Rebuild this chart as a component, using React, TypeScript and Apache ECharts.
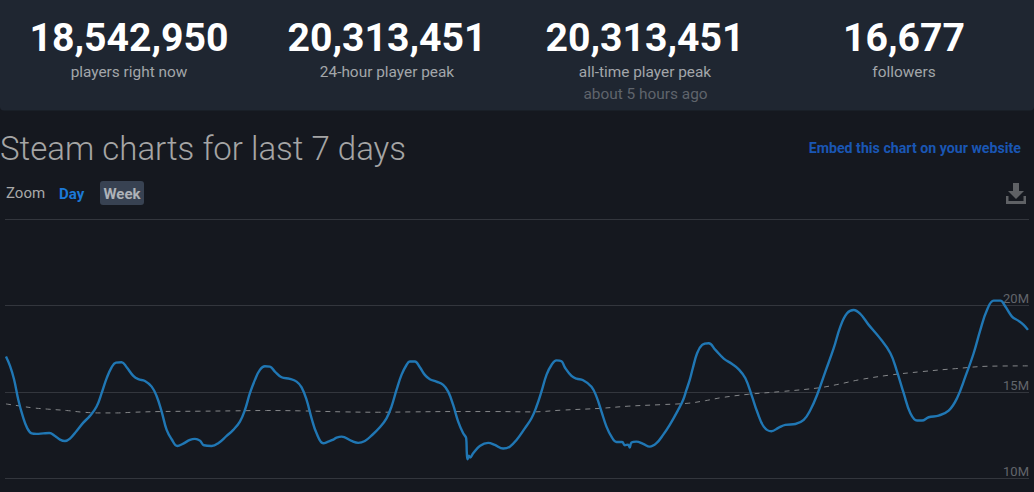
import React, { useEffect, useRef } from "react";
import * as echarts from "echarts";

const statValues = ["18,542,950", "20,313,451", "20,313,451", "16,677"];
const statLabels = ["players right now", "24-hour player peak", "all-time player peak", "followers"];
const statNote = "about 5 hours ago";
const titleText = "Steam charts for last 7 days";
const embedText = "Embed this chart on your website";
const axisTicks = [10, 15, 20];

// hours since window start
const playerHours = [0.16,0.82,1.48,2.19,2.9,3.66,4.37,5.19,6.29,7.27,8.2,9.02,9.84,10.66,11.75,12.85,13.94,15.03,15.85,16.67,17.49,18.21,19.13,19.96,21.05,21.87,22.96,24.06,24.87,25.7,26.52,27.34,28.26,29.25,30.34,31.16,31.98,32.64,33.9,34.99,36.36,37.45,38.54,39.36,40.18,41,41.82,42.64,43.46,44.28,45.38,46.74,47.84,48.66,49.48,50.3,51.12,52.21,53.03,53.74,54.4,55.22,56.85,57.95,59.04,60.13,61.5,62.59,63.41,64.23,65.05,65.87,66.42,67.24,68.06,68.88,69.7,70.79,71.89,72.71,73.53,74.35,75.17,75.66,75.77,75.88,76.1,76.32,76.81,77.9,79.27,80.36,81.73,82.82,83.92,85.28,86.38,87.2,88.01,88.84,89.66,90.48,91.3,91.84,92.94,93.76,94.85,96.22,97.04,97.86,98.68,99.5,100.32,101.25,101.68,102.23,102.5,102.78,103.6,104.69,105.78,106.88,107.97,109.06,110.43,111.25,111.8,112.34,112.84,113.55,114.37,115.46,116.55,117.92,119.29,120.38,121.47,122.57,123.39,124.48,125.74,126.94,128.03,129.67,131.04,132.13,133.23,134.59,135.96,137.05,138.15,139.24,140.34,141.7,143.34,145.26,146.35,147.44,148.54,149.63,150.45,151.54,153.18,154.82,156.19,157.56,158.92,160.02,161.11,162.2,163.3,164.12,165.21,166.3,167.12,167.83];
// players, millions
const playerValues = [17.05,16.51,15.74,14.54,13.62,12.9,12.61,12.58,12.61,12.63,12.46,12.25,12.17,12.31,12.75,13.23,13.62,14.16,14.93,15.79,16.43,16.7,16.72,16.43,15.93,15.74,15.64,15.31,14.77,13.87,12.81,12.27,11.88,12.02,12.23,12.29,12.19,11.92,11.88,12.04,12.46,12.81,13.29,13.96,14.93,15.7,16.28,16.49,16.47,16.18,15.85,15.76,15.6,15.27,14.54,13.48,12.61,12.04,12.13,12.23,12.36,12.42,12.17,12.06,12.17,12.48,12.96,13.48,14.16,15.12,15.99,16.56,16.76,16.76,16.43,15.99,15.74,15.6,15.41,15.02,14.25,13.29,12.61,12.33,11.46,11.11,11.32,11.21,11.46,11.88,12.06,11.94,11.73,11.84,12.23,12.9,13.48,14.16,15.02,15.99,16.56,16.83,16.78,16.43,15.93,15.77,15.68,15.31,14.73,13.87,13,12.42,12.11,12.11,11.92,11.96,11.79,12.08,12.13,12,11.84,12.04,12.52,13.1,13.96,14.54,15.12,15.7,16.37,17.24,17.72,17.82,17.43,16.93,16.62,16.31,15.79,14.73,13.87,13,12.73,12.94,13.1,13.15,13.39,13.96,14.83,16.18,17.53,18.78,19.55,19.74,19.51,18.88,18.2,17.24,16.18,14.93,13.77,13.35,13.35,13.54,13.64,13.92,14.64,15.89,17.24,18.59,19.74,20.28,20.28,19.94,19.36,19.11,18.88,18.59];

const averageHours = [0.16,2.46,4.65,7.38,10.11,12.85,15.58,18.31,21.05,25.42,31.98,37.45,42.91,48.38,55.76,61.23,66.69,73.8,80.36,86.38,91.3,97.86,102.23,107.69,112.07,114.91,117.65,122.02,127.49,133.5,136.78,140.06,144.98,150.45,155.92,161.38,167.83];
const averageValues = [14.31,14.19,14.08,14,13.93,13.83,13.79,13.79,13.83,13.87,13.89,13.91,13.93,13.91,13.85,13.83,13.85,13.87,13.87,13.85,13.95,14.06,14.18,14.27,14.35,14.5,14.68,14.87,15.03,15.24,15.45,15.7,15.97,16.18,16.35,16.49,16.51];

const FONT = "Roboto";
const downloadPath = "M7 0h6v8h5l-8 8-8-8h5zM0 13h2.5v5h15v-5H20v8H0z";

echarts.graphic.registerShape("downloadIcon", echarts.graphic.extendPath(downloadPath, {}) as any);

export default function App() {
  const ref = useRef<HTMLDivElement>(null);
  useEffect(() => {
    const chart = echarts.init(ref.current!, null, { renderer: "svg" });
    const centers = [129, 387, 645, 904];
    const text = (x: number, y: number, t: string, fontSize: number, fill: string, fontWeight: any = 400, align = "center") => ({
      type: "text", x, y, silent: true,
      style: { text: t, fontFamily: FONT, fontSize, fontWeight, fill, align, verticalAlign: "middle" },
    });
    chart.setOption({
      animation: false,
      backgroundColor: "#15181f",
      grid: { left: 5, right: 5, top: 219, height: 259.5, containLabel: false },
      xAxis: { type: "value", min: 0, max: 168, show: false },
      yAxis: {
        type: "value", min: 10, max: 25, interval: 5, position: "right",
        axisLine: { show: false }, axisTick: { show: false },
        splitLine: { show: true, lineStyle: { color: "#33363d", width: 1 } },
        axisLabel: {
          inside: true, margin: 0, color: "#62656b", fontFamily: FONT, fontSize: 13,
          verticalAlign: "bottom", align: "right", lineHeight: 14,
          customValues: axisTicks,
          formatter: (v: number) => v + "M",
        },
      },
      series: [
        {
          type: "line", name: "Players", showSymbol: false, smooth: 0.4,
          data: playerHours.map((h, i) => [h, playerValues[i]]),
          lineStyle: { color: "#2077b4", width: 2.4 }, z: 3,
        },
        {
          type: "line", name: "Average", showSymbol: false, smooth: 0.4,
          data: averageHours.map((h, i) => [h, averageValues[i]]),
          lineStyle: { color: "#85878a", width: 1, type: [5, 5] }, z: 2,
        },
      ],
      graphic: [
        { type: "rect", x: 0, y: 0, z: -1, shape: { x: 0, y: -6, width: 1034, height: 116.5, r: 4 }, style: { fill: "#1f2631" }, silent: true },
        ...statValues.map((t, i) => text(centers[i], 38, t, 39.2, "#ffffff", 700)),
        ...statLabels.map((t, i) => text(centers[i], 72, t, 15.4, "#a3a6aa")),
        text(645.5, 94, statNote, 15.4, "#5f646c"),
        text(0, 148, titleText, 33, "#a5a5a5", 300, "left"),
        text(6, 193, "Zoom", 15, "#a8a8a8", 400, "left"),
        text(59, 194, "Day", 15, "#1c78d6", 700, "left"),
        { type: "rect", shape: { x: 100, y: 181, width: 44, height: 24, r: 3 }, style: { fill: "#384252" }, silent: true },
        text(122, 193.5, "Week", 15, "#aeb2b8", 700),
        text(1021, 148, embedText, 14.2, "#1a56b4", 700, "right"),
        { type: "downloadIcon", x: 1006, y: 183, style: { fill: "#5f6165" }, silent: true },
      ],
    } as any);
    return () => chart.dispose();
  }, []);
  return <div ref={ref} style={{ position: "absolute", left: 0, top: 0, width: 1034, height: 492 }} />;
}
